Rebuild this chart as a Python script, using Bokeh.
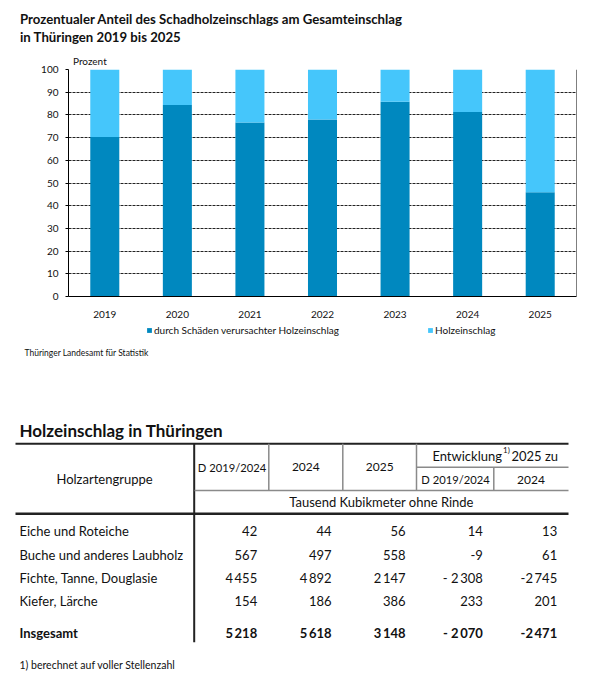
import math
from bokeh.plotting import figure
from bokeh.models import Range1d, FactorRange, Legend, LegendItem, Span, ColumnDataSource, Title
from bokeh.embed import file_html
from bokeh.resources import INLINE
from bokeh.core.properties import value

# ---------------- data ----------------
years = ["2019", "2020", "2021", "2022", "2023", "2024", "2025"]
schadholz = [70.3, 84.4, 76.7, 78.0, 85.8, 81.3, 45.9]
holzeinschlag_rest = [29.7, 15.6, 23.3, 22.0, 14.2, 18.7, 54.1]
y_ticks = [0, 10, 20, 30, 40, 50, 60, 70, 80, 90, 100]
series_names = ["durch Schäden verursachter Holzeinschlag", "Holzeinschlag"]

groups = ["Eiche und Roteiche", "Buche und anderes Laubholz",
          "Fichte, Tanne, Douglasie", "Kiefer, Lärche"]
avg_2019_2024 = [42, 567, 4455, 154]
val_2024 = [44, 497, 4892, 186]
val_2025 = [56, 558, 2147, 386]
dev_to_avg = [14, -9, -2308, 233]
dev_to_2024 = [13, 61, -2745, 201]
total_row = [5218, 5618, 3148, -2070, -2471]

# ---------------- style ----------------
FONT = "Lato"
DARK = "#0088BF"
LIGHT = "#45C6FB"
COLORS = [DARK, LIGHT]
TXT = "#111111"
W = 592

def canvas(h, y_top):
    f = figure(width=W, height=h, x_range=Range1d(0, W), y_range=Range1d(y_top + h, y_top),
               output_backend="svg", toolbar_location=None, min_border=0,
               x_axis_type=None, y_axis_type=None, title=None)
    f.grid.visible = False
    f.outline_line_color = None
    return f

def txt(f, xs, ys, texts, align="left", size="13px", bold=False):
    f.text(x=xs, y=ys, text=texts, text_align=align, text_baseline="middle",
           text_font=value(FONT), text_font_size=size,
           text_font_style="bold" if bold else "normal", text_color=TXT)

# ---------------- header (page y 0..46) ----------------
H1 = 46
hd = canvas(H1, 0)
txt(hd, [19.5], [18.5], ["Prozentualer Anteil des Schadholzeinschlags am Gesamteinschlag"],
    size="13.2px", bold=True)
txt(hd, [19.5], [36], ["in Thüringen 2019 bis 2025"], size="13.2px", bold=True)

# ---------------- chart (page y 46..320) ----------------
H2 = 274
p = figure(width=W, height=H2, x_range=FactorRange(factors=years),
           y_range=Range1d(0, 100), output_backend="svg", toolbar_location=None,
           min_border_left=68, min_border_right=16, min_border_top=23,
           min_border_bottom=22, title=None)
p.outline_line_color = None

src = ColumnDataSource(dict(year=years, schad=schadholz, rest=holzeinschlag_rest))
rs = p.vbar_stack(["schad", "rest"], x="year", width=0.4, source=src,
                  fill_color=COLORS, line_color=None)

p.xgrid.grid_line_color = None
p.ygrid.grid_line_color = "#222222"
p.ygrid.grid_line_dash = "3 1"
p.ygrid.grid_line_width = 1
p.yaxis.ticker = y_ticks

for ax in (p.xaxis, p.yaxis):
    ax.axis_line_color = "black"
    ax.axis_line_width = 1
    ax.minor_tick_line_color = None
    ax.major_label_text_font = FONT
    ax.major_label_text_font_size = "10px"
    ax.major_label_text_color = TXT
p.xaxis.major_tick_line_color = None
p.xaxis.major_label_standoff = 8
p.yaxis.major_tick_out = 3
p.yaxis.major_tick_in = 0
p.yaxis.major_tick_line_color = "black"
p.yaxis.major_label_standoff = 7

p.add_layout(Span(location=len(years), dimension="height", line_color="black", line_width=1))

p.add_layout(Title(text="Prozent", align="left", offset=4.5, standoff=5.5,
                   text_font=FONT, text_font_size="10px", text_font_style="normal",
                   text_color=TXT), "above")

# ---------------- lower part: legend, source, table (page y 320..690) ----------------
Y3 = H1 + H2
H3 = 690 - Y3
t = canvas(H3, Y3)

# legend keys: proxy renderers in the series colours (no drawable points)
nan = float("nan")
for name, col, lx in zip(series_names, COLORS, [146, 427]):
    proxy = t.vbar(x=[nan], top=[nan], bottom=[nan], width=1, fill_color=col, line_color=None)
    leg = Legend(items=[LegendItem(label=name, renderers=[proxy])],
                 location=(lx, H3 - (329.7 - Y3) - 6.5), orientation="horizontal",
                 glyph_width=6, glyph_height=6, label_standoff=2,
                 label_text_font=FONT, label_text_font_size="10px",
                 label_text_color=TXT, label_height=13, padding=0, margin=0,
                 spacing=0, border_line_color=None, background_fill_alpha=0)
    t.add_layout(leg, "center")

def seg(x0, y0, x1, y1, color, width):
    t.segment(x0=[x0], y0=[y0], x1=[x1], y1=[y1], line_color=color, line_width=width)

def fmt(v, spaced_minus=False):
    s = f"{abs(v):,}".replace(",", "\u2009")
    if v < 0:
        s = ("- " if (spaced_minus and abs(v) >= 1000) else "-") + s
    return s

txt(t, [24], [352.5], ["Thüringer Landesamt für Statistik"], size="8.5px")
txt(t, [19], [430], ["Holzeinschlag in Thüringen"], size="17px", bold=True)

seg(15, 443.3, 568, 443.3, "#222222", 2)
seg(15, 513.3, 568, 513.3, "#222222", 2.5)
seg(193.7, 443.3, 193.7, 641.7, "#222222", 2)
for xv in [268.3, 342.3, 416]:
    seg(xv, 443.3, xv, 490, "#8a8a8a", 1.5)
seg(493.3, 466.7, 493.3, 490, "#8a8a8a", 1.5)
seg(416, 466.7, 568, 466.7, "#8a8a8a", 1.5)
seg(194, 490, 568, 490, "#8a8a8a", 1.5)

txt(t, [104], [478], ["Holzartengruppe"], align="center")
txt(t, [231.5], [466.7], ["D 2019/2024"], align="center", size="11.2px")
txt(t, [305.3, 379.2], [466.7] * 2, ["2024", "2025"], align="center", size="12px")
txt(t, [501.5], [455.7], ["Entwicklung"], align="right")
txt(t, [502.5], [449.5], ["1)"], size="8px")
txt(t, [511], [455.7], ["2025 zu"])
txt(t, [455], [479], ["D 2019/2024"], align="center", size="11.2px")
txt(t, [530.5], [479], ["2024"], align="center", size="12px")
txt(t, [381], [501.7], ["Tausend Kubikmeter ohne Rinde"], align="center")

row_y = [530, 554, 577.3, 600.7]
txt(t, [19] * 4, row_y, groups)
col_right = [256.7, 331, 405, 482.3, 556.7]
cols = [avg_2019_2024, val_2024, val_2025, dev_to_avg, dev_to_2024]
for ci, (cx, vals) in enumerate(zip(col_right, cols)):
    txt(t, [cx] * len(vals), row_y, [fmt(v, ci == 3) for v in vals], align="right")

txt(t, [19], [632.7], ["Insgesamt"], bold=True)
txt(t, col_right, [632.7] * 5, [fmt(v, i == 3) for i, v in enumerate(total_row)],
    align="right", bold=True)

txt(t, [19], [664], ["1) berechnet auf voller Stellenzahl"], size="10.5px")

open("out.html", "w").write(file_html([hd, p, t], INLINE))
